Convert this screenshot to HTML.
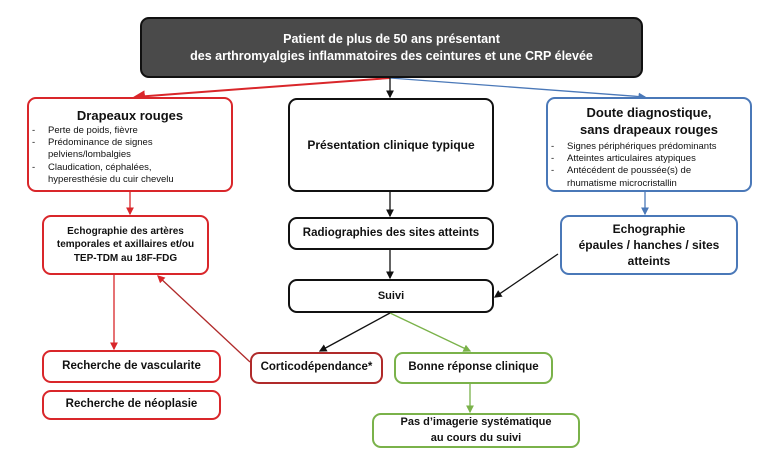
<!DOCTYPE html>
<html><head><meta charset="utf-8"><style>
body{margin:0;width:762px;height:460px;background:#fff;font-family:"Liberation Sans",sans-serif;position:relative;overflow:hidden}
.b{position:absolute;box-sizing:border-box;border:2px solid #111;border-radius:9px;background:#fff;display:flex;align-items:center;justify-content:center;text-align:center;font-weight:bold;font-size:11.5px;color:#111;line-height:1.35}
.r{border-color:#d9262a}.bl{border-color:#4a78b8}.g{border-color:#7ab24a}
ul{margin:0;padding:0;list-style:none;text-align:left;font-weight:normal;font-size:9.5px;line-height:1.3}
li{position:relative;padding-left:19px}li:before{content:"-";position:absolute;left:3px}
</style></head><body>
<svg width="762" height="460" style="position:absolute;left:0;top:0">
<defs>
<marker id="ak" markerWidth="6" markerHeight="6" refX="5" refY="3" orient="auto"><path d="M0,0L6,3L0,6z" fill="#111"/></marker>
<marker id="ar" markerWidth="6" markerHeight="6" refX="5" refY="3" orient="auto"><path d="M0,0L6,3L0,6z" fill="#d9262a"/></marker>
<marker id="ab" markerWidth="6" markerHeight="6" refX="5" refY="3" orient="auto"><path d="M0,0L6,3L0,6z" fill="#4a78b8"/></marker>
<marker id="ag" markerWidth="6" markerHeight="6" refX="5" refY="3" orient="auto"><path d="M0,0L6,3L0,6z" fill="#7ab24a"/></marker>
</defs>
<g stroke-width="1.3" fill="none">
<line x1="390" y1="78" x2="135" y2="97" stroke="#d9262a" marker-end="url(#ar)" stroke-width="2"/>
<line x1="390" y1="78" x2="645" y2="97" stroke="#4a78b8" marker-end="url(#ab)"/>
<line x1="390" y1="78" x2="390" y2="97" stroke="#111" marker-end="url(#ak)"/>
<line x1="130" y1="192" x2="130" y2="214" stroke="#d9262a" marker-end="url(#ar)"/>
<line x1="114" y1="275" x2="114" y2="349" stroke="#d9262a" marker-end="url(#ar)"/>
<line x1="250" y1="362" x2="158" y2="276" stroke="#b02a2a" marker-end="url(#ar)"/>
<line x1="390" y1="192" x2="390" y2="216" stroke="#111" marker-end="url(#ak)"/>
<line x1="390" y1="250" x2="390" y2="278" stroke="#111" marker-end="url(#ak)"/>
<line x1="645" y1="192" x2="645" y2="214" stroke="#4a78b8" marker-end="url(#ab)"/>
<line x1="558" y1="254" x2="495" y2="297" stroke="#111" marker-end="url(#ak)"/>
<line x1="390" y1="313" x2="320" y2="351" stroke="#111" marker-end="url(#ak)"/>
<line x1="390" y1="313" x2="470" y2="351" stroke="#7ab24a" marker-end="url(#ag)"/>
<line x1="470" y1="384" x2="470" y2="412" stroke="#7ab24a" marker-end="url(#ag)"/>
</g></svg>
<div class="b" style="left:140px;top:17px;width:503px;height:61px;background:#4a4a4a;border-color:#111;color:#fff;font-size:12.5px">Patient de plus de 50 ans présentant<br>des arthromyalgies inflammatoires des ceintures et une CRP élevée</div>
<div class="b r" style="left:27px;top:97px;width:206px;height:95px;flex-direction:column;align-items:stretch;justify-content:flex-start;padding-top:8px;font-size:13px">Drapeaux rouges
<ul><li>Perte de poids, fièvre</li><li>Prédominance de signes<br>pelviens/lombalgies</li><li>Claudication, céphalées,<br>hyperesthésie du cuir chevelu</li></ul></div>
<div class="b" style="left:288px;top:98px;width:206px;height:94px;font-size:12px">Présentation clinique typique</div>
<div class="b bl" style="left:546px;top:97px;width:206px;height:95px;flex-direction:column;align-items:stretch;justify-content:flex-start;padding-top:6px;font-size:13px;line-height:1.3">Doute diagnostique,<br>sans drapeaux rouges
<ul style="margin-top:2px"><li>Signes périphériques prédominants</li><li>Atteintes articulaires atypiques</li><li>Antécédent de poussée(s) de<br>rhumatisme microcristallin</li></ul></div>
<div class="b r" style="left:42px;top:215px;width:167px;height:60px;font-size:10px">Echographie des artères<br>temporales et axillaires et/ou<br>TEP-TDM au 18F-FDG</div>
<div class="b" style="left:288px;top:217px;width:206px;height:33px;font-size:11.5px">Radiographies des sites atteints</div>
<div class="b bl" style="left:560px;top:215px;width:178px;height:60px;font-size:12px">Echographie<br>épaules / hanches / sites<br>atteints</div>
<div class="b" style="left:288px;top:279px;width:206px;height:34px;font-size:11px">Suivi</div>
<div class="b r" style="left:42px;top:350px;width:179px;height:33px">Recherche de vascularite</div>
<div class="b r" style="left:42px;top:390px;width:179px;height:30px">Recherche de néoplasie</div>
<div class="b r" style="left:250px;top:352px;width:133px;height:32px;border-color:#b02a2a">Corticodépendance*</div>
<div class="b g" style="left:394px;top:352px;width:159px;height:32px">Bonne réponse clinique</div>
<div class="b g" style="left:372px;top:413px;width:208px;height:35px;font-size:11px;line-height:1.4">Pas d’imagerie systématique<br>au cours du suivi</div>
</body></html>
